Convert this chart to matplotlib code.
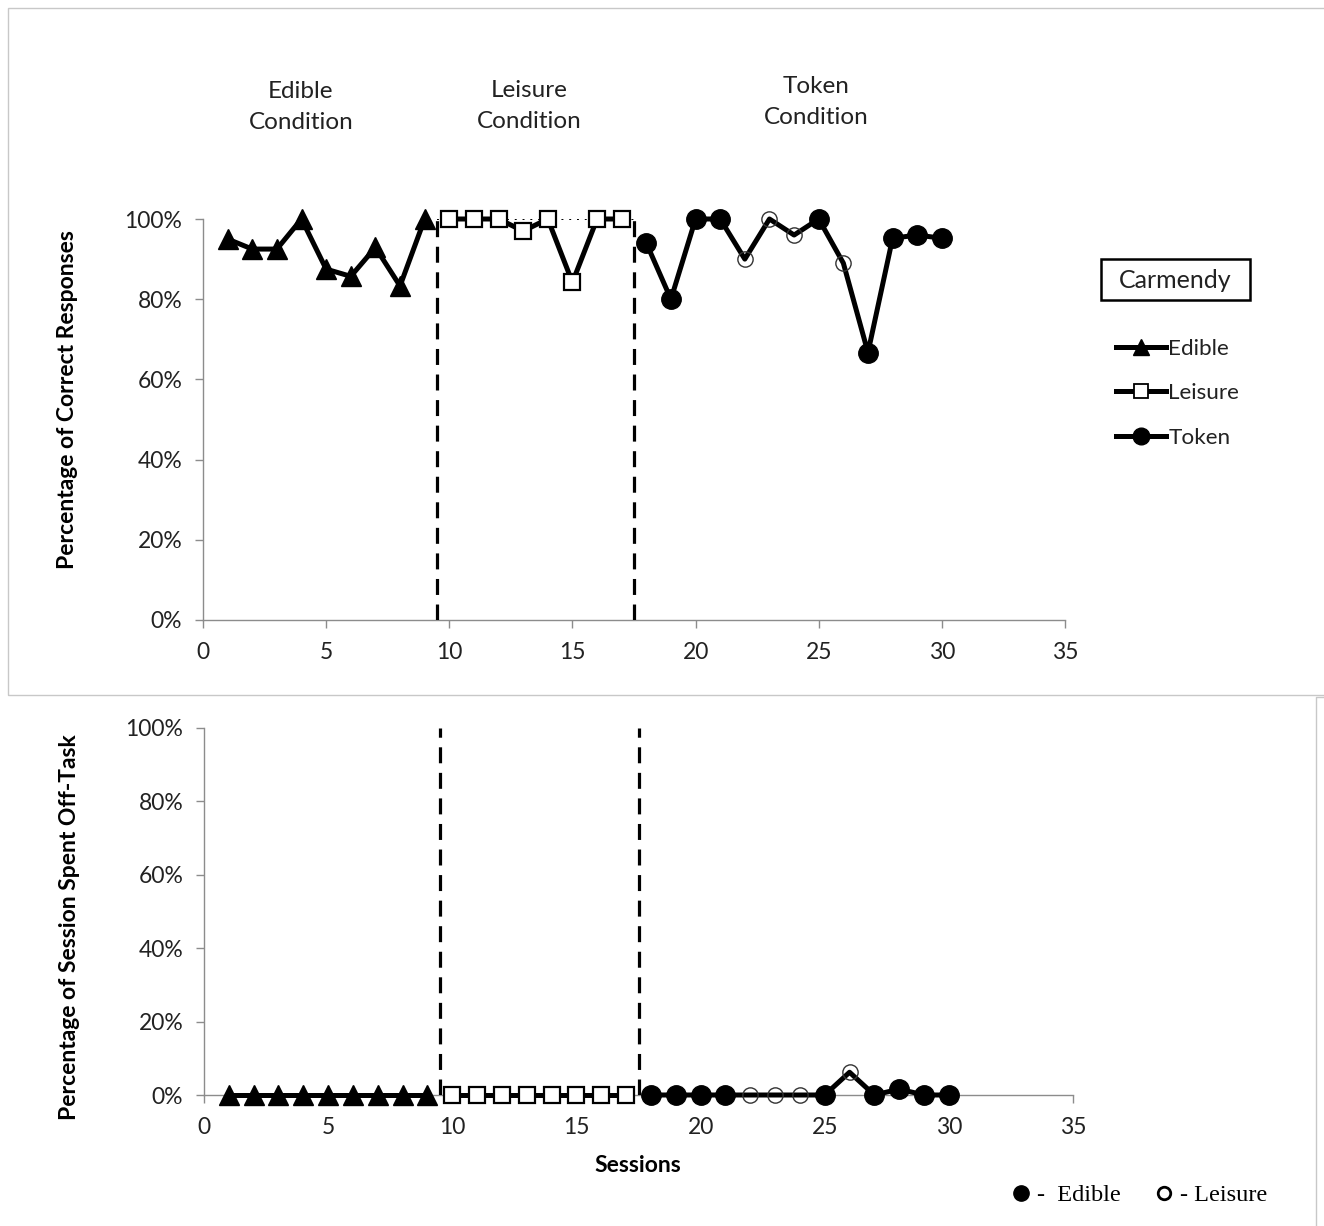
import matplotlib
matplotlib.use("Agg")
import matplotlib.pyplot as plt
from matplotlib.lines import Line2D
from matplotlib.patches import Rectangle
from matplotlib.ticker import PercentFormatter
import numpy as np

plt.rcParams['font.family'] = ['Lato', 'DejaVu Sans']

# sessions per condition
edible_x = [1, 2, 3, 4, 5, 6, 7, 8, 9]
leisure_x = [10, 11, 12, 13, 14, 15, 16, 17]
token_x = [18, 19, 20, 21, 22, 23, 24, 25, 26, 27, 28, 29, 30]

# percentage of correct responses
edible_correct = [95, 92.5, 92.5, 100, 87.5, 85.7, 92.9, 83.3, 100]
leisure_correct = [100, 100, 100, 97, 100, 84.2, 100, 100]
token_correct = [94, 80, 100, 100, 90, 100, 96, 100, 89, 66.7, 95.2, 96, 95.2]

# percentage of session spent off-task
edible_off = [0, 0, 0, 0, 0, 0, 0, 0, 0]
leisure_off = [0, 0, 0, 0, 0, 0, 0, 0]
token_off = [0, 0, 0, 0, 0, 0, 0, 0, 6.2, 0, 1.6, 0, 0]

# backup reinforcer picked in token sessions (E = edible, L = leisure)
token_choice = ['E', 'E', 'E', 'E', 'L', 'L', 'L', 'E', 'L', 'E', 'E', 'E', 'E']

phase_lines = [9.5, 17.5]
conditions = ["Edible\nCondition", "Leisure\nCondition", "Token\nCondition"]

W, H = 1324, 1226
fig = plt.figure(figsize=(W / 100, H / 100), dpi=100)

def fx(px):
    return px / W

def fy(py):
    return 1 - py / H

LW = 3.6
GRAY = "#8c8c8c"
TXT = "#222222"


def draw_panel(ax, e, l, t, dotted_top=False):
    ax.plot(edible_x, e, color="black", lw=LW, marker="^", ms=14,
            mfc="black", mec="black", clip_on=False, zorder=4)
    ax.plot(leisure_x, l, color="black", lw=LW, marker="s", ms=12,
            mfc="white", mec="black", mew=1.6, clip_on=False, zorder=4)
    ax.plot(token_x, t, color="black", lw=LW, clip_on=False, zorder=4)
    choice = np.array(token_choice)
    tx = np.array(token_x)
    ty = np.array(t)
    ax.plot(tx[choice == 'E'], ty[choice == 'E'], ls="none", marker="o",
            ms=14, mfc="black", mec="black", clip_on=False, zorder=5)
    ax.plot(tx[choice == 'L'], ty[choice == 'L'], ls="none", marker="o",
            ms=11, mfc="none", mec="#333333", mew=1.0, clip_on=False, zorder=5)
    for xv in phase_lines:
        ax.plot([xv, xv], [0, 100], color="black", lw=2.3,
                ls=(0, (5, 3)), zorder=3)
    if dotted_top:
        ax.plot(phase_lines, [100, 100], color="black", lw=1.4,
                ls=(0, (1, 3)), zorder=2)

    ax.set_xlim(0, 35)
    ax.set_ylim(0, 100)
    ax.set_xticks(np.arange(0, 36, 5))
    ax.set_yticks(np.arange(0, 101, 20))
    ax.yaxis.set_major_formatter(PercentFormatter(xmax=100, decimals=0))
    for s in ["top", "right"]:
        ax.spines[s].set_visible(False)
    for s in ["left", "bottom"]:
        ax.spines[s].set_color(GRAY)
        ax.spines[s].set_linewidth(1.0)
    ax.tick_params(axis="both", direction="out", length=6, width=1.0,
                   color=GRAY, labelsize=16.5, labelcolor=TXT)
    ax.tick_params(axis="y", pad=9)
    ax.tick_params(axis="x", pad=10)


# top panel: correct responses
ax1 = fig.add_axes([fx(203), fy(620), fx(1065) - fx(203), fy(219) - fy(620)])
draw_panel(ax1, edible_correct, leisure_correct, token_correct, dotted_top=True)

# bottom panel: off-task
ax2 = fig.add_axes([fx(204), fy(1095), fx(1073) - fx(204), fy(728) - fy(1095)])
draw_panel(ax2, edible_off, leisure_off, token_off)

# condition labels
for label, (px, py) in zip(conditions, [(301, 107), (529, 106), (816, 102)]):
    fig.text(fx(px), fy(py), label, ha="center", va="center",
             fontsize=17.5, color=TXT, linespacing=1.6)

fig.text(fx(68), fy(400), "Percentage of Correct Responses", rotation=90,
         ha="center", va="center", fontsize=16.5, fontweight="bold")
fig.text(fx(70), fy(927), "Percentage of Session Spent Off-Task", rotation=90,
         ha="center", va="center", fontsize=16.5, fontweight="bold")
fig.text(fx(638), fy(1165), "Sessions", ha="center", va="center",
         fontsize=16.5, fontweight="bold")

# participant name box
fig.add_artist(Rectangle((fx(1101), fy(300)), fx(1250) - fx(1101), fy(259) - fy(300),
                         transform=fig.transFigure, fc="white", ec="black", lw=1.8))
fig.text(fx(1175), fy(280), "Carmendy", ha="center", va="center",
         fontsize=18, color=TXT)

# series legend
handles = [
    Line2D([], [], color="black", lw=LW, marker="^", ms=12, mfc="black"),
    Line2D([], [], color="black", lw=LW, marker="s", ms=10, mfc="white", mew=1.3),
    Line2D([], [], color="black", lw=LW, marker="o", ms=12, mfc="black"),
]
leg = fig.legend(handles, ["Edible", "Leisure", "Token"], loc="upper left",
                 bbox_to_anchor=(fx(1116), fy(339)), frameon=False,
                 fontsize=16.2, handlelength=2.2, handletextpad=0.12,
                 labelspacing=1.08, borderpad=0, borderaxespad=0)
for txt in leg.get_texts():
    txt.set_color(TXT)

# token choice key
key = [
    Line2D([], [], ls="none", marker="o", ms=11, mfc="black", mec="black"),
    Line2D([], [], ls="none", marker="o", ms=9, mfc="none", mec="black", mew=2.0),
]
leg2 = fig.legend(key, ["-  Edible", "- Leisure"], loc="center left",
                  bbox_to_anchor=(fx(1009), fy(1195)), frameon=False, ncol=2,
                  prop={"family": "Liberation Serif", "size": 17.5},
                  handlelength=1.0, handletextpad=0.15, columnspacing=1.3,
                  borderpad=0, borderaxespad=0)

# panel outlines
fig.add_artist(Rectangle((fx(8), fy(695)), fx(1330) - fx(8), fy(8) - fy(695),
                         transform=fig.transFigure, fill=False,
                         ec="#c8c8c8", lw=1.0))
fig.add_artist(Line2D([fx(1316), fx(1316), fx(1330)],
                      [fy(1226), fy(697), fy(697)],
                      transform=fig.transFigure, color="#c8c8c8", lw=1.0))

fig.savefig("out.png", dpi=100)
